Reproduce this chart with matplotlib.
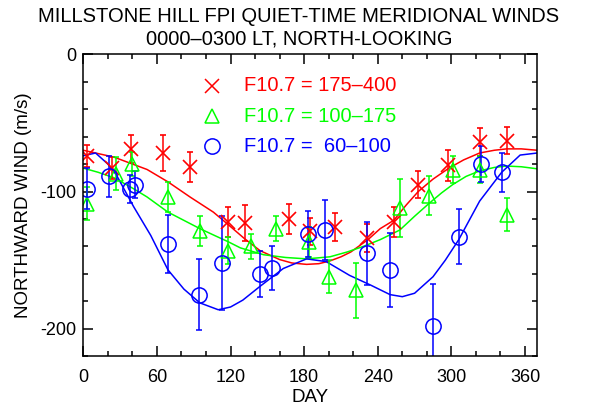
import numpy as np
import matplotlib
matplotlib.use("Agg")
from matplotlib import pyplot as plt
from matplotlib.ticker import MultipleLocator

plt.rcParams['font.family'] = ['Liberation Sans', 'DejaVu Sans']
plt.rcParams['axes.unicode_minus'] = False

# --- data ---
# F10.7 = 175-400 (red X)
red_day = [3, 23, 39, 65, 87, 118, 132, 168, 185, 205, 231, 253, 273, 297, 323, 345]
red_wind = [-74, -83, -69, -72, -82, -122, -123, -120, -129, -126, -134, -122, -95, -81, -64, -63]
red_err = [8, 8, 10, 13, 11, 11, 13, 11, 10, 10, 10, 11, 10, 11, 10, 10]

# F10.7 = 100-175 (green triangles)
green_day = [3, 27, 40, 69, 95, 118, 137, 157, 184, 200, 222, 258, 282, 301, 323, 345]
green_wind = [-109, -87, -80, -104, -129, -143, -140, -127, -137, -162, -172, -112, -103, -84, -84, -117]
green_err = [12, 12, 9, 11, 11, 10, 9, 9, 11, 12, 20, 21, 14, 10, 10, 12]

# F10.7 = 60-100 (blue circles)
blue_day = [3, 21, 38, 42, 69, 94, 113, 144, 154, 183, 197, 231, 250, 285, 306, 324, 341]
blue_wind = [-98, -89, -98, -95, -138, -175, -152, -160, -156, -131, -128, -145, -157, -198, -133, -80, -86]
blue_err = [15, 15, 10, 10, 21, 26, 34, 17, 16, 17, 22, 23, 27, 31, 20, 13, 14]

# fitted curves
red_fit_day = [0, 25, 52, 69, 87, 106, 118, 131, 144, 160, 170, 182, 192, 201, 210, 218, 232, 242, 253, 263, 273, 285, 298, 310, 323, 335, 345, 357, 370]
red_fit_wind = [-70, -75, -84, -93, -104, -115, -124, -134, -143, -149.5, -152, -153, -152.5, -150.5, -147.5, -144, -135, -127, -121, -110, -100, -91, -83, -77, -72, -70, -69, -69, -70]

green_fit_day = [0, 12, 25, 41, 52, 69, 82, 95, 107, 118, 128, 147, 165, 182, 201, 215, 228, 242, 258, 270, 282, 292, 301, 312, 323, 335, 345, 357, 370]
green_fit_wind = [-83, -86, -90, -98, -104, -115, -121, -127, -132, -136.5, -141, -146, -148, -149, -147.5, -144, -140, -135, -128, -118, -108.5, -101, -95, -89, -85, -82.5, -81.5, -82, -83.5]

blue_fit_day = [0, 10, 20, 27, 41, 55, 69, 82, 95, 110, 120, 130, 144, 163, 182, 198, 217, 234, 250, 260, 270, 285, 295, 306, 323, 341, 356, 370]
blue_fit_wind = [-74, -72, -80, -88, -111, -132, -157, -171, -181, -186, -184, -179, -169, -156, -149, -151, -161, -168, -175, -176.5, -174, -162, -150, -135, -107, -86, -73.5, -72]

legend_labels = ['F10.7 = 175\u2013400', 'F10.7 = 100\u2013175', 'F10.7 =  60\u2013100']

RED, GREEN, BLUE = '#ff0000', '#00ff00', '#0000ff'

fig = plt.figure(figsize=(5.92, 4.07), dpi=100)
ax = fig.add_axes([0.1407, 0.1241, 0.7669, 0.7432])

ax.plot(red_fit_day, red_fit_wind, color=RED, lw=1.1)
ax.plot(green_fit_day, green_fit_wind, color=GREEN, lw=1.1)
ax.plot(blue_fit_day, blue_fit_wind, color=BLUE, lw=1.1)

ax.errorbar(red_day, red_wind, yerr=red_err, fmt='x', color=RED, ms=10, mew=1.2,
            elinewidth=1.1, capsize=2, capthick=1.1)
ax.errorbar(green_day, green_wind, yerr=green_err, fmt='^', color=GREEN, mfc='none', ms=10,
            mew=1.1, elinewidth=1.1, capsize=2, capthick=1.1)
ax.errorbar(blue_day, blue_wind, yerr=blue_err, fmt='o', color=BLUE, mfc='none', ms=11,
            mew=1.1, elinewidth=1.1, capsize=2, capthick=1.1)

ax.set_xlim(0, 370)
ax.set_ylim(-220, 0)
ax.xaxis.set_major_locator(MultipleLocator(60))
ax.xaxis.set_minor_locator(MultipleLocator(20))
ax.yaxis.set_major_locator(MultipleLocator(100))
ax.yaxis.set_minor_locator(MultipleLocator(20))
ax.tick_params(which='both', direction='in', top=True, right=True, width=1.1, labelsize=13)
ax.tick_params(axis='x', pad=9)
ax.tick_params(axis='y', pad=5)
ax.tick_params(which='major', length=7)
ax.tick_params(which='minor', length=3.6)
for sp in ax.spines.values():
    sp.set_linewidth(1.1)

ax.set_xlabel('DAY', fontsize=13.5, labelpad=2)
ax.set_ylabel('NORTHWARD WIND (m/s)', fontsize=13.5, labelpad=6)

# legend drawn by hand as in the original
markers = [('x', RED), ('^', GREEN), ('o', BLUE)]
for i, ((m, c), lab) in enumerate(zip(markers, legend_labels)):
    yy = 0.895 - i * 0.1
    ax.plot([0.283], [yy], transform=ax.transAxes, marker=m, color=c, mfc='none',
            ms=10 if m != 'o' else 11, mew=1.1, ls='none')
    ax.text(0.355, yy, lab, transform=ax.transAxes, color=c, fontsize=14.5, va='center')

fig.text(0.505, 0.960, 'MILLSTONE HILL FPI QUIET-TIME MERIDIONAL WINDS', ha='center', va='center', fontsize=14.5)
fig.text(0.505, 0.904, '0000\u20130300 LT, NORTH-LOOKING', ha='center', va='center', fontsize=14.5)

fig.savefig('out.png', dpi=100)
